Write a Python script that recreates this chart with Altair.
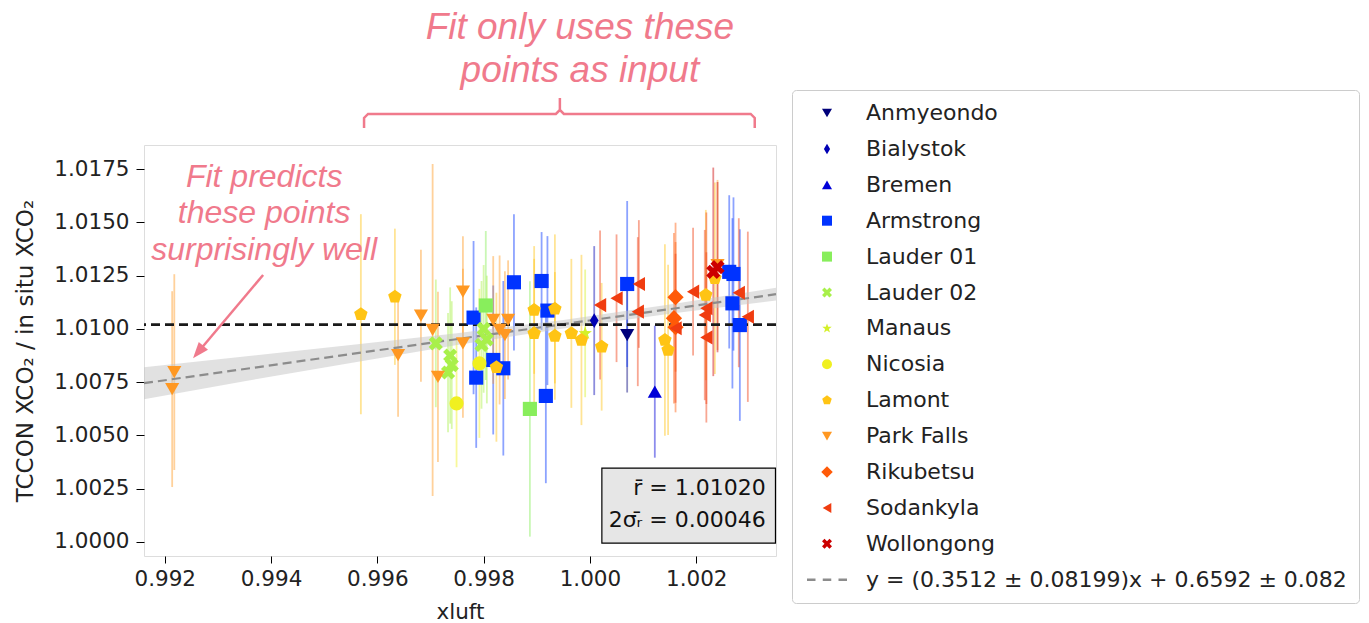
import altair as alt
import pandas as pd

# ---------------- data ----------------
sites = ["Anmyeondo", "Bialystok", "Bremen", "Armstrong", "Lauder 01", "Lauder 02",
         "Manaus", "Nicosia", "Lamont", "Park Falls", "Rikubetsu", "Sodankyla", "Wollongong"]
fit_label = "y = (0.3512 ± 0.08199)x + 0.6592 ± 0.082"
site_colors = ["#00007a", "#0000b4", "#0000d8", "#0033ff", "#88ee5c", "#a8f04a",
               "#d4f028", "#f0f020", "#ffc414", "#ff9822", "#ff5a08", "#f03c10", "#cc0000"]

anm_x = [1.0007]; anm_y = [1.00971]; anm_e = [0.0027]
bia_x = [1.00008]; bia_y = [1.01039]; bia_e = [0.0035]
bre_x = [1.00122]; bre_y = [1.00705]; bre_e = [0.0031]
arm_x = [0.99781, 0.99786, 0.99818, 0.99837, 0.99857, 0.99909, 0.99920, 0.99917, 1.00070, 1.00262, 1.00270, 1.00268, 1.00282]
arm_y = [1.01053, 1.00771, 1.00854, 1.00815, 1.01219, 1.01225, 1.01086, 1.00685, 1.01211, 1.01268, 1.01258, 1.01120, 1.01018]
arm_e = [0.0036, 0.0033, 0.0035, 0.0041, 0.0032, 0.0023, 0.0035, 0.0041, 0.0039, 0.0036, 0.0036, 0.0040, 0.0045]
la1_x = [0.99887, 0.99804]; la1_y = [1.00624, 1.01110]; la1_e = [0.0060, 0.0035]
la2_x = [0.99710, 0.99737, 0.99740, 0.99733, 0.99800, 0.99806, 0.99796]
la2_y = [1.00932, 1.00875, 1.00830, 1.00795, 1.01000, 1.00950, 1.00925]
la2_e = [0.0030, 0.0032, 0.0030, 0.0028, 0.0030, 0.0030, 0.0030]
man_x = [0.99991]; man_y = [1.00979]; man_e = [0.0030]
nic_x = [0.99749, 0.99792]; nic_y = [1.00650, 1.00838]; nic_e = [0.0030, 0.0035]
lam_x = [0.99569, 0.99633, 0.99824, 0.99895, 0.99895, 0.99934, 0.99934, 0.99965, 0.99984, 1.00022, 1.00141, 1.00147, 1.00218, 1.00235]
lam_y = [1.01069, 1.01151, 1.00820, 1.01089, 1.00979, 1.01094, 1.00967, 1.00979, 1.00948, 1.00916, 1.00948, 1.00901, 1.01159, 1.01238]
lam_e = [0.0047, 0.0032, 0.0035, 0.0030, 0.0035, 0.0035, 0.0030, 0.0035, 0.0040, 0.0030, 0.0045, 0.0040, 0.0040, 0.0045]
pkf_x = [0.99218, 0.99214, 0.99639, 0.99682, 0.99704, 0.99714, 0.99761, 0.99761, 0.99818, 0.99830, 0.99840, 0.99846, 1.00240]
pkf_y = [1.00797, 1.00717, 1.00877, 1.01062, 1.00995, 1.00775, 1.01175, 1.00932, 1.01042, 1.00995, 1.00971, 1.01042, 1.01300]
pkf_e = [0.0046, 0.0046, 0.0029, 0.0031, 0.0078, 0.0040, 0.0026, 0.0035, 0.0030, 0.0035, 0.0030, 0.0028, 0.0040]
rik_x = [1.00161, 1.00158, 1.00161]; rik_y = [1.01149, 1.01050, 1.01008]; rik_e = [0.0035, 0.0040, 0.0040]
sod_x = [1.00019, 1.00050, 1.00092, 1.00090, 1.00161, 1.00194, 1.00219, 1.00216, 1.00219, 1.00280, 1.00297]
sod_y = [1.01112, 1.01144, 1.01211, 1.01081, 1.01003, 1.01175, 1.01097, 1.01065, 1.00960, 1.01170, 1.01057]
sod_e = [0.0035, 0.0030, 0.0030, 0.0035, 0.0035, 0.0030, 0.0045, 0.0040, 0.0040, 0.0035, 0.0040]
wol_x = [1.00232, 1.00240]; wol_y = [1.01268, 1.01290]; wol_e = [0.0049, 0.0040]

band_x = [0.99161, 0.9935, 0.9955, 0.9975, 0.9995, 1.0015, 1.0035]
band_lo = [1.00670, 1.00754, 1.00840, 1.00924, 1.01002, 1.01071, 1.01133]
band_hi = [1.00820, 1.00870, 1.00924, 1.00980, 1.01042, 1.01115, 1.01193]
fit_x = [0.99161, 1.0035]
fit_y = [1.00745, 1.01163]
mean_r = 1.0102

x_ticks = [0.992, 0.994, 0.996, 0.998, 1.000, 1.002]
y_ticks = [1.0, 1.0025, 1.005, 1.0075, 1.01, 1.0125, 1.015, 1.0175]
x_domain = [0.99161, 1.0035]
y_domain = [0.99933, 1.01864]

stats_lines = ["r\u0304 = 1.01020", "2\u03c3\u1d63\u0304 = 0.00046"]
top_note = ["Fit only uses these", "points as input"]
left_note = ["Fit predicts", "these points", "surprisingly well"]

# ---------------- tables ----------------
groups = [
    ("Anmyeondo", anm_x, anm_y, anm_e), ("Bialystok", bia_x, bia_y, bia_e),
    ("Bremen", bre_x, bre_y, bre_e), ("Armstrong", arm_x, arm_y, arm_e),
    ("Lauder 01", la1_x, la1_y, la1_e), ("Lauder 02", la2_x, la2_y, la2_e),
    ("Manaus", man_x, man_y, man_e), ("Nicosia", nic_x, nic_y, nic_e),
    ("Lamont", lam_x, lam_y, lam_e), ("Park Falls", pkf_x, pkf_y, pkf_e),
    ("Rikubetsu", rik_x, rik_y, rik_e), ("Sodankyla", sod_x, sod_y, sod_e),
    ("Wollongong", wol_x, wol_y, wol_e),
]
rows = []
for name, xs_, ys_, es_ in groups:
    for xv, yv, ev in zip(xs_, ys_, es_):
        rows.append({"site": name, "xluft": xv, "r": yv, "lo": yv - ev, "hi": yv + ev})
pts = pd.DataFrame(rows)
band_df = pd.DataFrame({"x": band_x, "lo": band_lo, "hi": band_hi})
fit_df = pd.DataFrame({"x": fit_x, "y": fit_y})

PENTAGON = "M0,-1L0.951,-0.309L0.588,0.809L-0.588,0.809L-0.951,-0.309Z"
STAR = ("M0,-1L0.235,-0.324L0.951,-0.309L0.38,0.124L0.588,0.809L0,0.4L-0.588,0.809"
        "L-0.38,0.124L-0.951,-0.309L-0.235,-0.324Z")
THIN_DIAMOND = "M0,-1.05L0.62,0L0,1.05L-0.62,0Z"
XSHAPE = "M-1,-0.5L-0.5,-1L0,-0.5L0.5,-1L1,-0.5L0.5,0L1,0.5L0.5,1L0,0.5L-0.5,1L-1,0.5L-0.5,0Z"
DIAMOND = "M0,-1.15L1.15,0L0,1.15L-1.15,0Z"
DASH = "M-4,-0.24H-2.3V0.24H-4Z M-0.85,-0.24H0.85V0.24H-0.85Z M2.3,-0.24H4V0.24H2.3Z"
shapes = ["triangle-down", THIN_DIAMOND, "triangle-up", "square", "square", XSHAPE, STAR,
          "circle", PENTAGON, "triangle-down", DIAMOND, "triangle-left", XSHAPE, DASH]

color_scale = alt.Scale(domain=sites + [fit_label], range=site_colors + ["#8c8c8c"])
shape_scale = alt.Scale(domain=sites + [fit_label], range=shapes)
xs = alt.Scale(domain=x_domain, nice=False, zero=False)
ys = alt.Scale(domain=y_domain, nice=False, zero=False)

FONT = "DejaVu Sans"
legend = alt.Legend(title=None, orient="none", legendX=648, legendY=-55,
                    labelFontSize=22, labelFont=FONT, labelColor="#222222", labelLimit=700,
                    symbolSize=100, rowPadding=13.9, padding=12, strokeColor="#cccccc",
                    fillColor="white", cornerRadius=4, symbolOffset=12, labelOffset=28,
                    symbolStrokeWidth=0, symbolOpacity=1)

x_axis = alt.Axis(values=x_ticks, format=".3f", title="xluft", grid=False, domain=False,
                  tickSize=7, tickColor="black", labelFontSize=21.5, titleFontSize=21.5,
                  labelFont=FONT, titleFont=FONT, labelColor="#222222", titleColor="#222222",
                  titleFontWeight="normal", labelPadding=5, titlePadding=12)
y_axis = alt.Axis(values=y_ticks, format=".4f", title="TCCON XCO\u2082 / in situ XCO\u2082",
                  grid=False, domain=False, tickSize=8, tickColor="black", labelFontSize=21.5,
                  titleFontSize=23, labelFont=FONT, titleFont=FONT, labelColor="#222222",
                  titleColor="#222222", titleFontWeight="normal", labelPadding=7, titlePadding=16)

base = alt.Chart(pts)

errbars = base.mark_rule(strokeWidth=1.8, opacity=0.45).encode(
    x=alt.X("xluft:Q", scale=xs, axis=x_axis),
    y=alt.Y("lo:Q", scale=ys, axis=y_axis),
    y2="hi:Q",
    color=alt.Color("site:N", scale=color_scale, legend=None),
)

band = alt.Chart(band_df).mark_area(color="#c4c4c4", opacity=0.5).encode(
    x=alt.X("x:Q", scale=xs), y=alt.Y("lo:Q", scale=ys), y2="hi:Q")

fit_line = alt.Chart(fit_df).mark_line(color="#8c8c8c", strokeWidth=2.2, strokeDash=[9, 5]).encode(
    x=alt.X("x:Q", scale=xs), y=alt.Y("y:Q", scale=ys))

mean_line = alt.Chart(pd.DataFrame({"m": [mean_r]})).mark_rule(
    color="#1a1a1a", strokeWidth=2.6, strokeDash=[9, 5]).encode(y=alt.Y("m:Q", scale=ys))

points = base.mark_point(filled=True, size=200, opacity=1).encode(
    x=alt.X("xluft:Q", scale=xs),
    y=alt.Y("r:Q", scale=ys),
    color=alt.Color("site:N", scale=color_scale, legend=legend),
    shape=alt.Shape("site:N", scale=shape_scale, legend=legend),
)

# stats box
box_df = pd.DataFrame({"x": [1.000224], "x2": [1.00349], "y": [1.003463], "y2": [0.999939]})
box = alt.Chart(box_df).mark_rect(fill="#e6e6e6", stroke="black", strokeWidth=1.2).encode(
    x=alt.X("x:Q", scale=xs), x2="x2:Q", y=alt.Y("y:Q", scale=ys), y2="y2:Q")
stats_df = pd.DataFrame({"t": stats_lines, "x": [1.003306, 1.003306], "y": [1.002195, 1.000691]})
stats = alt.Chart(stats_df).mark_text(align="right", baseline="alphabetic", fontSize=22,
                                      font=FONT, color="#111111").encode(
    x=alt.X("x:Q", scale=xs), y=alt.Y("y:Q", scale=ys), text="t:N")

PINK = "#f07a8c"
ANN_FONT = "Liberation Sans"
top_df = pd.DataFrame({"t": top_note, "x": [0.99981, 0.99981], "y": [1.023623, 1.021603]})
top_text = alt.Chart(top_df).mark_text(align="center", baseline="alphabetic", fontSize=37,
                                       font=ANN_FONT, fontStyle="italic", color=PINK).encode(
    x=alt.X("x:Q", scale=xs), y=alt.Y("y:Q", scale=ys), text="t:N")
left_df = pd.DataFrame({"t": left_note, "x": [0.99387] * 3, "y": [1.016668, 1.014977, 1.013238]})
left_text = alt.Chart(left_df).mark_text(align="center", baseline="alphabetic", fontSize=32,
                                         font=ANN_FONT, fontStyle="italic", color=PINK).encode(
    x=alt.X("x:Q", scale=xs), y=alt.Y("y:Q", scale=ys), text="t:N")

brace_df = pd.DataFrame({
    "o": list(range(11)),
    "x": [0.99575, 0.99575, 0.995825, 0.999359, 0.999434, 0.999434, 0.999434, 0.999509, 1.003024, 1.0031, 1.0031],
    "y": [1.019441, 1.019911, 1.020099, 1.020099, 1.020287, 1.020851, 1.020287, 1.020099, 1.020099, 1.019911, 1.019441],
})
brace = alt.Chart(brace_df).mark_line(color=PINK, strokeWidth=2.5).encode(
    x=alt.X("x:Q", scale=xs), y=alt.Y("y:Q", scale=ys), order="o:Q")

arrow_df = pd.DataFrame({"o": [0, 1], "x": [0.993851, 0.99263], "y": [1.012533, 1.008915]})
arrow_line = alt.Chart(arrow_df).mark_line(color=PINK, strokeWidth=2.5).encode(
    x=alt.X("x:Q", scale=xs), y=alt.Y("y:Q", scale=ys), order="o:Q")
head_df = pd.DataFrame({"x": [0.99263], "y": [1.008915]})
arrow_head = alt.Chart(head_df).mark_point(shape="M0,-1L0.75,1L-0.75,1Z", filled=True, size=260,
                                           angle=220, color=PINK, opacity=1).encode(
    x=alt.X("x:Q", scale=xs), y=alt.Y("y:Q", scale=ys))

chart = alt.layer(
    errbars, band, fit_line, mean_line, points, box, stats,
    top_text, left_text, brace, arrow_line, arrow_head,
).resolve_legend(
    color="independent", shape="independent"
).properties(
    width=632, height=411,
    autosize=alt.AutoSizeParams(type="none"),
    padding={"left": 144, "top": 145, "right": 593, "bottom": 67},
).configure_view(stroke="black", strokeWidth=1.2).configure(font=FONT)

chart.save("out.html", embed_options={"renderer": "svg", "actions": False})
